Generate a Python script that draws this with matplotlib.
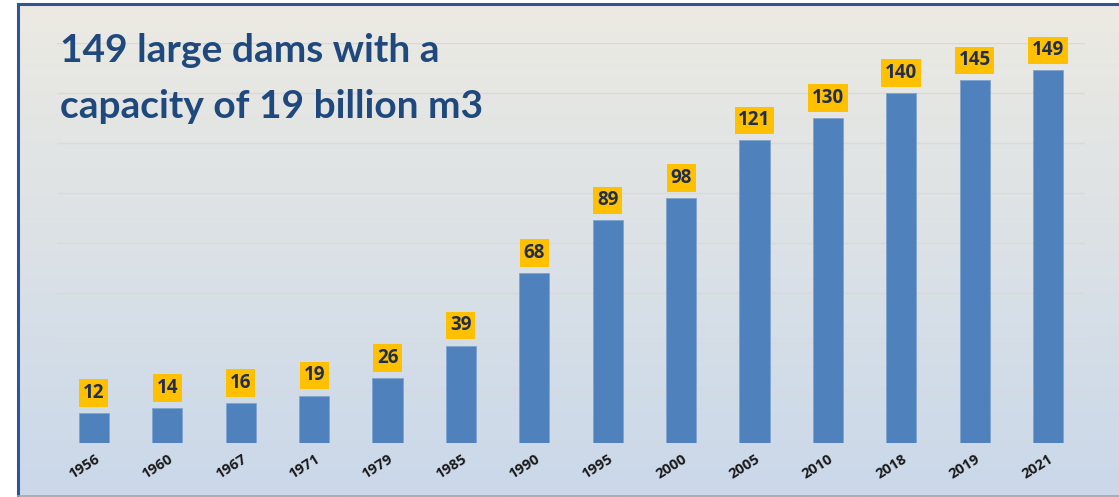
import numpy as np
import matplotlib
matplotlib.use("Agg")
import matplotlib.pyplot as plt
from matplotlib.lines import Line2D

years = ["1956", "1960", "1967", "1971", "1979", "1985", "1990", "1995",
         "2000", "2005", "2010", "2018", "2019", "2021"]
dams = [12, 14, 16, 19, 26, 39, 68, 89, 98, 121, 130, 140, 145, 149]
title_lines = ["149 large dams with a", "capacity of 19 billion m3"]

W, H = 1119, 497
fig = plt.figure(figsize=(W / 100, H / 100), dpi=100)
fig.patch.set_facecolor("white")

# gradient background panel
bg = fig.add_axes([18 / W, 0, 1 - 18 / W, 1 - 4 / H])
top = np.array([0xEC, 0xEA, 0xE2]) / 255
bot = np.array([0xCA, 0xD8, 0xEA]) / 255
t = np.linspace(0, 1, 256)[:, None]
grad = top[None, :] * (1 - t) + bot[None, :] * t
bg.imshow(grad[:, None, :], aspect="auto", extent=[0, 1, 0, 1], origin="upper")
bg.set_xlim(0, 1); bg.set_ylim(0, 1)
bg.axis("off")
# frame
fig.add_artist(Line2D([18 / W, 18 / W], [1 / H, 1 - 4 / H], color="#2F5597", lw=2.2, transform=fig.transFigure))
fig.add_artist(Line2D([18 / W, 1], [1 - 4 / H, 1 - 4 / H], color="#2F5597", lw=2.2, transform=fig.transFigure))
fig.add_artist(Line2D([18 / W, 1], [1.2 / H, 1.2 / H], color="#A6A6A6", lw=1.2, transform=fig.transFigure))

ax = fig.add_axes([57.3 / W, 1 - 443 / H, (1084.7 - 57.3) / W, (443 - 43) / H])
ax.patch.set_alpha(0)
x = np.arange(len(years))
ax.bar(x, dams, width=0.41, color="#4F81BD", edgecolor="#7FA3D0", linewidth=0.6, zorder=3)
ax.set_xlim(-0.5, len(years) - 0.5)
ax.set_ylim(0, 160)
ax.set_yticks(np.arange(0, 161, 20))
ax.yaxis.grid(True, color="#D9D9D9", lw=1.0, zorder=0)
ax.tick_params(axis="y", left=False, labelleft=False)
ax.tick_params(axis="x", length=0, pad=11)
for s in ax.spines.values():
    s.set_visible(False)
ax.set_xticks(x)
ax.set_xticklabels(years, rotation=32, ha="right", va="center", rotation_mode="anchor",
                   fontsize=10.5, fontweight="bold", color="#1a1a1a", family="Open Sans")
trans_shift = matplotlib.transforms.ScaledTranslation(3 / 72, 0, fig.dpi_scale_trans)
for lbl in ax.get_xticklabels():
    lbl.set_transform(lbl.get_transform() + trans_shift)

for xi, v in zip(x, dams):
    ax.annotate(str(v), (xi, v), xytext=(0, 14.5), textcoords="offset points",
                ha="center", va="center", fontsize=13.5, fontweight="bold", color="#1F2D4E",
                family="Open Sans", zorder=4,
                bbox=dict(boxstyle="square,pad=0.2", fc="#FFC000", ec="none"))

for i, line in enumerate(title_lines):
    fig.text(60 / W, 1 - (62 + 56 * i) / H, line, fontsize=28, fontweight="bold",
             color="#1F497D", family="Lato", ha="left", va="baseline")

fig.savefig("out.png", dpi=100)
